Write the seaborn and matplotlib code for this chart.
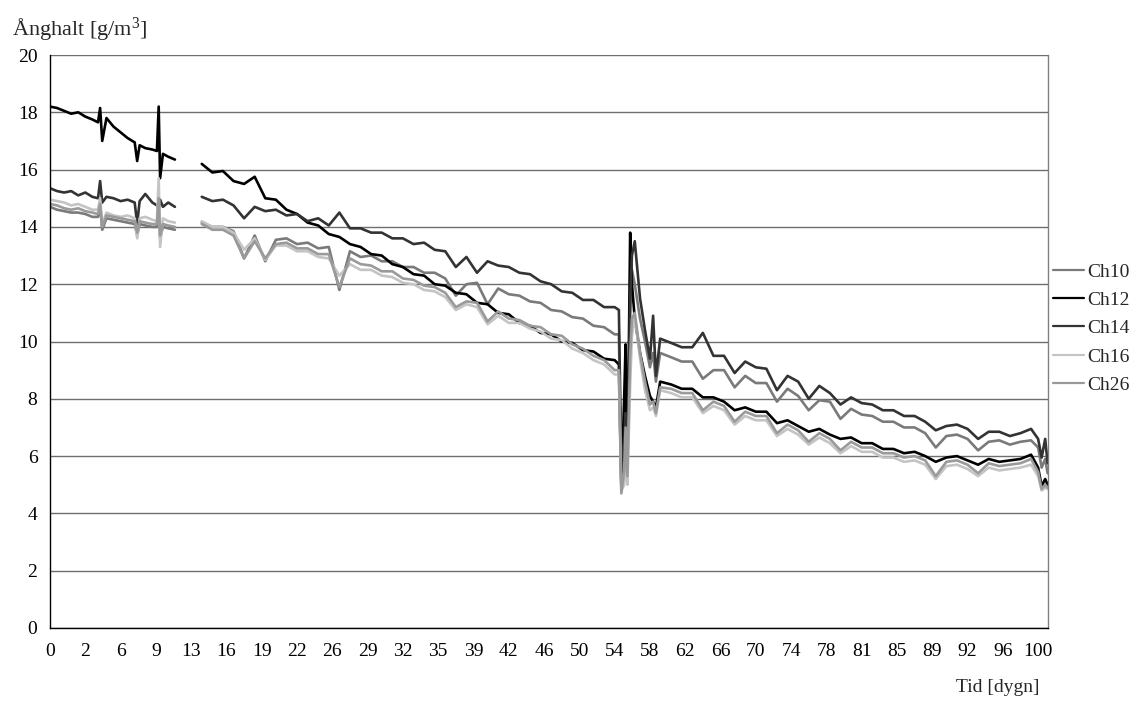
import numpy as np
import pandas as pd
import matplotlib
matplotlib.use("Agg")
import matplotlib.pyplot as plt
import seaborn as sns

# ---------------- data ----------------
series_names = ["Ch10", "Ch12", "Ch14", "Ch16", "Ch26"]
tick_labels = ["0", "2", "6", "9", "13", "16", "19", "22", "26", "29", "32", "35",
               "39", "42", "46", "50", "54", "58", "62", "66", "70", "74", "78",
               "81", "85", "89", "92", "96", "100"]

# category-axis positions (tick index units)
pos_a = [0.0, 0.2, 0.4, 0.6, 0.8, 1.0, 1.2, 1.36, 1.42, 1.48, 1.6, 1.8, 2.0, 2.2,
         2.4, 2.47, 2.54, 2.7, 2.9, 3.03, 3.08, 3.12, 3.2, 3.35, 3.54]
pos_b = [4.3, 4.6, 4.9, 5.2, 5.5, 5.8, 6.1, 6.4, 6.7, 7.0, 7.3, 7.6, 7.9, 8.2, 8.5,
         8.8, 9.1, 9.4, 9.7, 10.0, 10.3, 10.6, 10.9, 11.2, 11.5, 11.8, 12.1, 12.4,
         12.7, 13.0, 13.3, 13.6, 13.9, 14.2, 14.5, 14.8, 15.1, 15.4, 15.7, 16.0, 16.12,
         16.19, 16.27, 16.31, 16.36, 16.44, 16.49, 16.57, 16.72, 16.86, 17.0, 17.09,
         17.17, 17.29,
         17.6, 17.9, 18.2, 18.5, 18.8, 19.1, 19.4, 19.7, 20.0, 20.3, 20.6, 20.9, 21.2,
         21.5, 21.8, 22.1, 22.4, 22.7, 23.0, 23.3, 23.6, 23.9, 24.2, 24.5, 24.8, 25.1,
         25.4, 25.7, 26.0, 26.3, 26.6, 26.9, 27.2, 27.5, 27.8, 28.0, 28.1, 28.2, 28.27]

ch12_a = [18.2, 18.15, 18.05, 17.95, 18.0, 17.85, 17.75, 17.65, 18.15, 17.0, 17.8, 17.5,
          17.3, 17.1, 16.95, 16.3, 16.85, 16.75, 16.7, 16.65, 18.2, 15.7, 16.55, 16.45, 16.35]
ch14_a = [15.35, 15.25, 15.2, 15.25, 15.1, 15.2, 15.05, 15.0, 15.6, 14.85, 15.05, 15.0,
          14.9, 14.95, 14.85, 14.1, 14.9, 15.15, 14.85, 14.75, 14.6, 14.95, 14.7, 14.85, 14.7]
ch16_a = [14.95, 14.9, 14.85, 14.75, 14.8, 14.7, 14.6, 14.6, 15.0, 14.1, 14.5, 14.4,
          14.35, 14.4, 14.3, 13.6, 14.3, 14.35, 14.25, 14.2, 15.7, 13.3, 14.3, 14.2, 14.15]
ch10_a = [14.7, 14.6, 14.55, 14.5, 14.5, 14.45, 14.35, 14.35, 14.7, 13.9, 14.3, 14.25,
          14.2, 14.15, 14.1, 13.7, 14.1, 14.05, 14.0, 14.0, 14.8, 13.6, 14.0, 13.95, 13.9]
ch26_a = [14.8, 14.75, 14.65, 14.6, 14.65, 14.55, 14.5, 14.45, 14.8, 14.0, 14.4, 14.35,
          14.3, 14.25, 14.2, 13.8, 14.2, 14.15, 14.1, 14.1, 15.0, 13.7, 14.1, 14.05, 14.0]

ch12_b = [16.2, 15.9, 15.95, 15.6, 15.5, 15.75, 15.0, 14.95, 14.6, 14.45, 14.15, 14.05,
          13.75, 13.65, 13.4, 13.3, 13.05, 13.0, 12.7, 12.6, 12.35, 12.3, 12.0, 11.95, 11.7,
          11.65, 11.35, 11.3, 11.0, 10.95, 10.65, 10.55, 10.3, 10.25, 10.0, 9.95, 9.7, 9.65,
          9.4, 9.35, 9.2,
          4.9, 8.0, 9.9, 5.2, 13.8, 12.0, 10.8, 9.6, 8.8, 8.1, 7.9, 7.7, 8.6,
          8.5, 8.35, 8.35, 8.05, 8.05, 7.9, 7.6, 7.7, 7.55, 7.55, 7.15, 7.25, 7.05, 6.85,
          6.95, 6.75, 6.6, 6.65, 6.45, 6.45, 6.25, 6.25, 6.1, 6.15, 6.0, 5.8, 5.95, 6.0,
          5.85, 5.7, 5.9, 5.8, 5.85, 5.9, 6.05, 5.6, 4.95, 5.2, 5.0]
ch14_b = [15.05, 14.9, 14.95, 14.75, 14.3, 14.7, 14.55, 14.6, 14.4, 14.45, 14.2, 14.3,
          14.05, 14.5, 13.95, 13.95, 13.8, 13.8, 13.6, 13.6, 13.4, 13.45, 13.2, 13.15, 12.6,
          12.95, 12.4, 12.8, 12.65, 12.6, 12.4, 12.35, 12.1, 12.0, 11.75, 11.7, 11.45, 11.45,
          11.2, 11.2, 11.1,
          5.5, 6.5, 7.5, 6.0, 11.5, 13.0, 13.5, 11.5, 10.4, 9.4, 10.9, 8.8, 10.1,
          9.95, 9.8, 9.8, 10.3, 9.5, 9.5, 8.9, 9.3, 9.1, 9.05, 8.3, 8.8, 8.6, 8.0, 8.45,
          8.2, 7.8, 8.05, 7.85, 7.8, 7.6, 7.6, 7.4, 7.4, 7.2, 6.9, 7.05, 7.1, 6.95, 6.6,
          6.85, 6.85, 6.7, 6.8, 6.95, 6.6, 5.95, 6.6, 5.75]
ch10_b = [14.15, 14.0, 14.0, 13.85, 12.9, 13.7, 12.8, 13.55, 13.6, 13.4, 13.45, 13.25,
          13.3, 11.8, 13.15, 12.95, 13.0, 12.8, 12.8, 12.6, 12.6, 12.4, 12.4, 12.2, 11.6,
          12.0, 12.05, 11.3, 11.85, 11.65, 11.6, 11.4, 11.35, 11.1, 11.05, 10.85, 10.8,
          10.55, 10.5, 10.25, 10.25,
          5.0, 6.0, 8.5, 5.8, 11.0, 12.5, 12.0, 10.8, 10.0, 9.1, 9.6, 8.6, 9.6,
          9.45, 9.3, 9.3, 8.7, 9.0, 9.0, 8.4, 8.8, 8.55, 8.55, 7.9, 8.35, 8.1, 7.6, 7.95,
          7.9, 7.3, 7.65, 7.45, 7.4, 7.2, 7.2, 7.0, 7.0, 6.8, 6.3, 6.7, 6.75, 6.6, 6.2,
          6.5, 6.55, 6.4, 6.5, 6.55, 6.3, 5.6, 5.9, 5.4]
ch26_b = [14.1, 13.9, 13.9, 13.7, 12.9, 13.5, 12.9, 13.4, 13.45, 13.25, 13.25, 13.05,
          13.05, 11.9, 12.9, 12.7, 12.65, 12.45, 12.45, 12.2, 12.15, 11.95, 11.9, 11.7, 11.2,
          11.4, 11.35, 10.7, 11.05, 10.8, 10.75, 10.55, 10.5, 10.25, 10.2, 9.9, 9.75, 9.5,
          9.35, 9.0, 9.0,
          4.7, 5.5, 7.0, 5.3, 9.5, 10.8, 11.0, 9.6, 8.6, 7.8, 7.9, 7.5, 8.4,
          8.35, 8.2, 8.2, 7.6, 7.9, 7.75, 7.2, 7.55, 7.4, 7.4, 6.8, 7.1, 6.9, 6.5, 6.8,
          6.6, 6.2, 6.5, 6.3, 6.3, 6.1, 6.1, 5.95, 6.0, 5.85, 5.3, 5.8, 5.85, 5.7, 5.4,
          5.75, 5.65, 5.7, 5.75, 5.9, 5.45, 4.85, 5.0, 4.9]
ch16_b = [14.2, 14.0, 14.0, 13.8, 13.2, 13.6, 12.85, 13.35, 13.35, 13.15, 13.15, 12.95,
          12.9, 12.3, 12.7, 12.5, 12.5, 12.3, 12.25, 12.05, 12.0, 11.8, 11.75, 11.55, 11.1,
          11.3, 11.2, 10.6, 10.9, 10.65, 10.65, 10.45, 10.35, 10.1, 10.05, 9.75, 9.6, 9.35,
          9.2, 8.85, 8.85,
          4.8, 5.0, 6.0, 5.0, 8.5, 10.2, 10.9, 9.4, 8.3, 7.6, 7.7, 7.4, 8.3,
          8.2, 8.05, 8.05, 7.5, 7.75, 7.6, 7.1, 7.4, 7.25, 7.25, 6.7, 6.95, 6.75, 6.4, 6.65,
          6.45, 6.1, 6.35, 6.15, 6.15, 5.95, 5.95, 5.8, 5.85, 5.7, 5.2, 5.65, 5.7, 5.55, 5.3,
          5.6, 5.5, 5.55, 5.6, 5.7, 5.3, 4.8, 4.9, 4.85]

colors = {"Ch10": "#7a7a7a", "Ch12": "#000000", "Ch14": "#333333",
          "Ch16": "#c4c4c4", "Ch26": "#9a9a9a"}

# ---------------- build long table ----------------
seg_a = {"Ch10": ch10_a, "Ch12": ch12_a, "Ch14": ch14_a, "Ch16": ch16_a, "Ch26": ch26_a}
seg_b = {"Ch10": ch10_b, "Ch12": ch12_b, "Ch14": ch14_b, "Ch16": ch16_b, "Ch26": ch26_b}
rows = []
for name in series_names:
    for x, y in zip(pos_a, seg_a[name]):
        rows.append((name, "a", x, y))
    for x, y in zip(pos_b, seg_b[name]):
        rows.append((name, "b", x, y))
df = pd.DataFrame(rows, columns=["series", "seg", "pos", "value"])

# ---------------- plot ----------------
sns.set_theme(style="white")
plt.rcParams["font.family"] = ["Liberation Serif", "DejaVu Serif"]
plt.rcParams["mathtext.fontset"] = "custom"
plt.rcParams["mathtext.rm"] = "Liberation Serif"
plt.rcParams["mathtext.it"] = "Liberation Serif:italic"

fig = plt.figure(figsize=(11.47, 7.06), dpi=100)
ax = fig.add_axes([50 / 1147, 1 - 628 / 706, 998 / 1147, 573 / 706])

sns.lineplot(data=df, x="pos", y="value", hue="series", units="seg",
             estimator=None, sort=False, palette=colors, hue_order=series_names,
             linewidth=1.9, ax=ax, legend=True)

ax.set_xlim(0, 28.28)
ax.set_ylim(0, 20)
ax.set_yticks(np.arange(0, 21, 2))
ax.set_yticklabels([str(v) for v in range(0, 21, 2)])
ax.set_xticks(np.arange(len(tick_labels)))
ax.set_xticklabels(tick_labels)
ax.set_xlabel("")
ax.set_ylabel("")

ax.yaxis.grid(True, color="#6e6e6e", linewidth=1.0)
ax.xaxis.grid(False)
ax.set_axisbelow(True)
ax.spines["top"].set_visible(False)
ax.spines["left"].set_color("black")
ax.spines["bottom"].set_color("black")
ax.spines["right"].set_color("#808080")
for s in ["left", "bottom", "right"]:
    ax.spines[s].set_linewidth(1.0)

ax.tick_params(axis="both", which="major", direction="out", length=5, width=1,
               color="black", labelsize=14, labelcolor="black")
ax.tick_params(axis="x", pad=6)
ax.tick_params(axis="y", pad=4)
ax.tick_params(right=False, top=False)

handles, labels = ax.get_legend_handles_labels()
ax.get_legend().remove()
leg = fig.legend(handles, labels, loc="upper left",
                 bbox_to_anchor=(1053 / 1147, 1 - 263 / 706),
                 frameon=False, fontsize=14, handlelength=1.6, handletextpad=0.15,
                 labelspacing=0.55, borderpad=0, borderaxespad=0)
for h in leg.get_lines():
    h.set_linewidth(1.6)

fig.text(12 / 1147, 1 - 29 / 706, "Ånghalt [g/m$^{3}$]", fontsize=16,
         ha="left", va="center")
fig.text(1040 / 1147, 1 - 688 / 706, "Tid [dygn]", fontsize=14, ha="right", va="center")

fig.savefig("out.png", dpi=100)
